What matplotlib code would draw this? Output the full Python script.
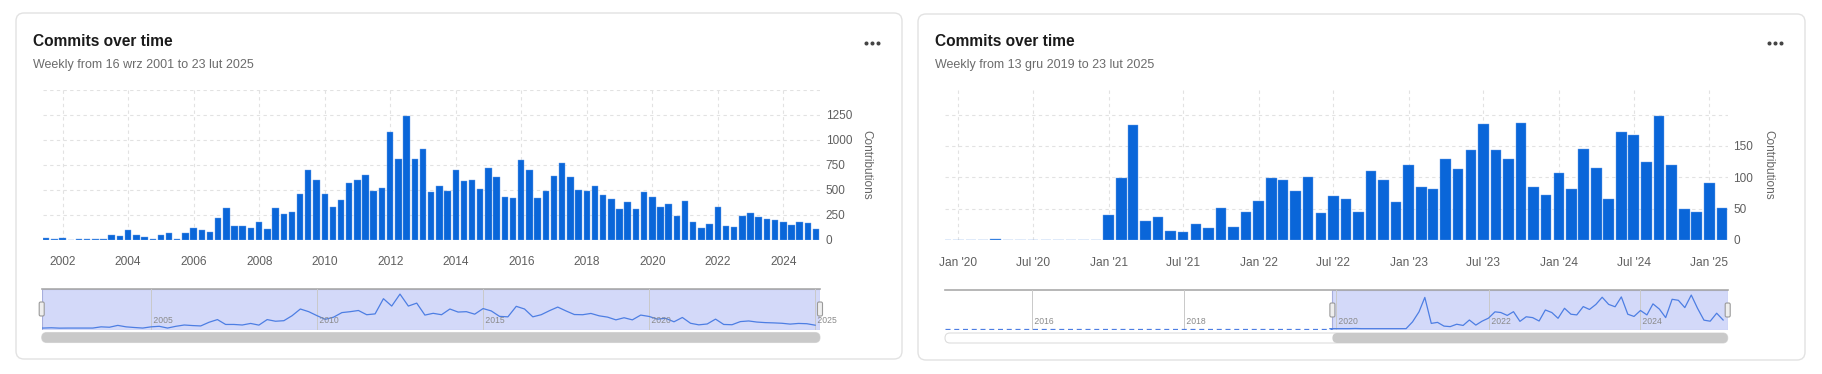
import matplotlib
matplotlib.use('Agg')
import matplotlib.pyplot as plt
import matplotlib.dates as mdates
from matplotlib.patches import FancyBboxPatch
from matplotlib.lines import Line2D
from matplotlib.transforms import IdentityTransform
import pandas as pd

plt.rcParams['font.family'] = ['Liberation Sans', 'DejaVu Sans']

# left card: commits per quarter, 2001 Q3 .. 2025 Q1
left_subtitle = 'Weekly from 16 wrz 2001 to 23 lut 2025'
quarter_first = '2001-07-01'
quarter_commits = [13, 3, 13, 0, 3, 3, 3, 3, 47, 33, 100, 47, 23, 3, 47, 67, 3, 67, 114, 94,
                   80, 214, 311, 134, 134, 114, 171, 110, 311, 251, 271, 452, 696, 599, 452, 321, 398, 565, 599, 642,
                   488, 518, 1071, 803, 1238, 803, 910, 475, 539, 488, 696, 585, 599, 508, 712, 626, 428, 411, 793, 696,
                   411, 488, 636, 766, 626, 495, 488, 535, 448, 401, 301, 378, 301, 475, 425, 328, 358, 231, 388, 177,
                   120, 151, 328, 134, 124, 238, 261, 221, 201, 191, 177, 147, 171, 161, 107]
left_years = [2002, 2004, 2006, 2008, 2010, 2012, 2014, 2016, 2018, 2020, 2022, 2024]
left_yticks = [0, 250, 500, 750, 1000, 1250, 1500]
left_range = ('2001-09-16', '2025-02-23')
left_nav_years = [2005, 2010, 2015, 2020, 2025]

# right card: commits per month, Dec 2019 .. Feb 2025
right_subtitle = 'Weekly from 13 gru 2019 to 23 lut 2025'
month_first = '2019-12-01'
month_commits = [0, 0, 0, 0, 1, 0, 0, 0, 0, 0, 0, 0, 0, 40, 99, 184, 31, 37, 15, 12,
                 26, 19, 51, 21, 44, 62, 99, 95, 78, 100, 43, 70, 65, 45, 110, 95, 61, 120, 85, 81,
                 130, 113, 143, 185, 143, 129, 187, 85, 72, 107, 81, 146, 115, 65, 173, 167, 124, 198, 120, 50,
                 44, 91, 51]
right_ticks = ['2020-01-01', '2020-07-01', '2021-01-01', '2021-07-01', '2022-01-01', '2022-07-01',
               '2023-01-01', '2023-07-01', '2024-01-01', '2024-07-01', '2025-01-01']
right_ticklabels = ["Jan '20", "Jul '20", "Jan '21", "Jul '21", "Jan '22", "Jul '22",
                    "Jan '23", "Jul '23", "Jan '24", "Jul '24", "Jan '25"]
right_yticks = [0, 50, 100, 150, 200]
right_range = ('2019-12-13', '2025-02-23')
right_nav_start = '2014-11-08'
right_nav_years = [2016, 2018, 2020, 2022, 2024]

BLUE = '#0a66d9'
GRID = '#e2e2e2'
FILL = '#d3d9f9'
W, H = 1822, 374
fig = plt.figure(figsize=(W / 100, H / 100), dpi=100)


def px_axes(x0, y0, x1, y1):
    ax = fig.add_axes([x0 / W, 1 - y1 / H, (x1 - x0) / W, (y1 - y0) / H])
    ax.set_facecolor('none')
    return ax


def px_box(x0, y0, x1, y1, r, fc, ec, lw=1.0, z=-1):
    fig.add_artist(FancyBboxPatch((x0, H - y1), x1 - x0, y1 - y0,
                                  boxstyle='round,pad=0,rounding_size=%g' % r,
                                  transform=IdentityTransform(), fc=fc, ec=ec, lw=lw, zorder=z))


def dnum(s):
    return mdates.date2num(pd.Timestamp(s))


def lim_from_ticks(t0, p0, t1, p1, left, right):
    d0, d1 = dnum(t0), dnum(t1)
    k = (p1 - p0) / (d1 - d0)
    return d0 - (p0 - left) / k, d0 + (right - p0) / k


def card(x0, y0, x1, y1, title, subtitle, dots_x):
    px_box(x0, y0, x1, y1, 8, 'white', '#e2e2e2', 1.0)
    fig.text((x0 + 17) / W, 1 - 42 / H, title, fontsize=11.2, fontweight='bold',
             color='#1b1b1b', va='center', ha='left')
    fig.text((x0 + 17) / W, 1 - 65 / H, subtitle, fontsize=9.0, color='#6b6b6b',
             va='center', ha='left')
    fig.add_artist(Line2D([(dots_x - 6) / W, dots_x / W, (dots_x + 6) / W], [1 - 43 / H] * 3,
                          transform=fig.transFigure, ls='', marker='o', ms=1.9, color='#444444'))


def style_main(ax, yticks, ylabels, ylabel_x):
    ax.set_yticks(yticks)
    ax.set_yticklabels(ylabels)
    ax.yaxis.tick_right()
    ax.tick_params(axis='y', length=0, pad=4.2, labelsize=8.5, labelcolor='#5f5f5f')
    ax.tick_params(axis='x', length=0, pad=12, labelsize=8.6, labelcolor='#5f5f5f')
    ax.grid(True, color=GRID, ls=(0, (3, 3)), lw=0.8)
    ax.set_axisbelow(True)
    for s in ax.spines.values():
        s.set_visible(False)
    fig.text(ylabel_x / W, 1 - 165 / H, 'Contributions', rotation=-90, fontsize=8.5,
             color='#666666', ha='center', va='center')


def navigator(ax, nav_lo, nav_hi, sel_lo, sel_hi, years, x, y, ymax, early=None):
    ax.set_xlim(nav_lo, nav_hi)
    ax.set_ylim(-0.04 * ymax, 1.15 * ymax)
    ax.set_xticks([])
    ax.set_yticks([])
    for s in ax.spines.values():
        s.set_visible(False)
    ax.axhline(1.15 * ymax, color='#aaaaaa', lw=1.2, clip_on=False)
    ax.axvspan(sel_lo, sel_hi, fc=FILL, ec='#a7aedc', lw=0.8)
    for yr in years:
        xv = dnum('%d-01-01' % yr)
        ax.axvline(xv, color='#c9c9c9', lw=0.7)
        ax.text(xv, 0.22 * ymax, ' %d' % yr, fontsize=6.2, color='#8a8a8a',
                ha='left', va='center', clip_on=False)
    if early is not None:
        ax.plot(early, [-0.02 * ymax] * 2, color='#4d7ee3', lw=0.9, ls=(0, (4, 3)))
    ax.plot(x, y, color='#4d7ee3', lw=0.9)
    # handles and scroll bar, positioned from the axis transforms
    bb = ax.get_position()
    top = H - bb.y1 * H
    bot = H - bb.y0 * H
    for xv in (sel_lo, sel_hi):
        xp = ax.transData.transform((xv, 0))[0]
        px_box(xp - 2.5, top + 13, xp + 2.5, top + 27, 1.5, '#eeeeee', '#9a9a9a', 0.8, z=5)
    x_lo = ax.transData.transform((nav_lo, 0))[0]
    x_hi = ax.transData.transform((nav_hi, 0))[0]
    s_lo = ax.transData.transform((sel_lo, 0))[0]
    px_box(x_lo, bot + 3, x_hi, bot + 13, 5, 'white', '#dddddd', 0.8, z=1)
    px_box(max(s_lo, x_lo), bot + 3, x_hi, bot + 13, 5, '#c9c9c9', 'none', 0, z=2)


# ---------- left card ----------
card(16, 13, 902, 359, 'Commits over time', left_subtitle, 872)
ax1 = px_axes(42.7, 89.5, 820, 239.5)
qx = pd.date_range(quarter_first, periods=len(quarter_commits), freq='QS')
ax1.bar(qx, quarter_commits, width=72, color=BLUE, edgecolor='#6fa3ea', linewidth=0.3)
ax1.set_xlim(*lim_from_ticks('2002-01-01', 62.7, '2024-01-01', 783.3, 42.7, 820))
ax1.set_ylim(0, 1500)
ax1.set_xticks([dnum('%d-01-01' % y) for y in left_years])
ax1.set_xticklabels([str(y) for y in left_years])
style_main(ax1, left_yticks, [str(v) for v in left_yticks[:-1]] + [''], 866)

nav1 = px_axes(41.7, 289, 820, 329.5)
navigator(nav1, dnum(left_range[0]), dnum(left_range[1]), dnum(left_range[0]), dnum(left_range[1]),
          left_nav_years, qx, quarter_commits, max(quarter_commits))

# ---------- right card ----------
card(918, 14, 1805, 360, 'Commits over time', right_subtitle, 1775)
ax2 = px_axes(945, 89.6, 1727.7, 240)
mx = pd.date_range(month_first, periods=len(month_commits), freq='MS')
ax2.bar(mx, month_commits, width=26, color=BLUE, edgecolor='#6fa3ea', linewidth=0.3)
ax2.set_xlim(*lim_from_ticks('2020-01-01', 958.3, '2025-01-01', 1709.3, 945, 1727.7))
ax2.set_ylim(0, 240)
ax2.set_xticks([dnum(t) for t in right_ticks])
ax2.set_xticklabels(right_ticklabels)
style_main(ax2, right_yticks, [str(v) for v in right_yticks[:-1]] + [''], 1768)

nav2 = px_axes(945, 290, 1727.7, 330)
navigator(nav2, dnum(right_nav_start), dnum(right_range[1]), dnum(right_range[0]), dnum(right_range[1]),
          right_nav_years, mx, month_commits, max(month_commits),
          early=[dnum(right_nav_start), dnum(right_range[0])])

fig.savefig('out.png', dpi=100, facecolor='white')
